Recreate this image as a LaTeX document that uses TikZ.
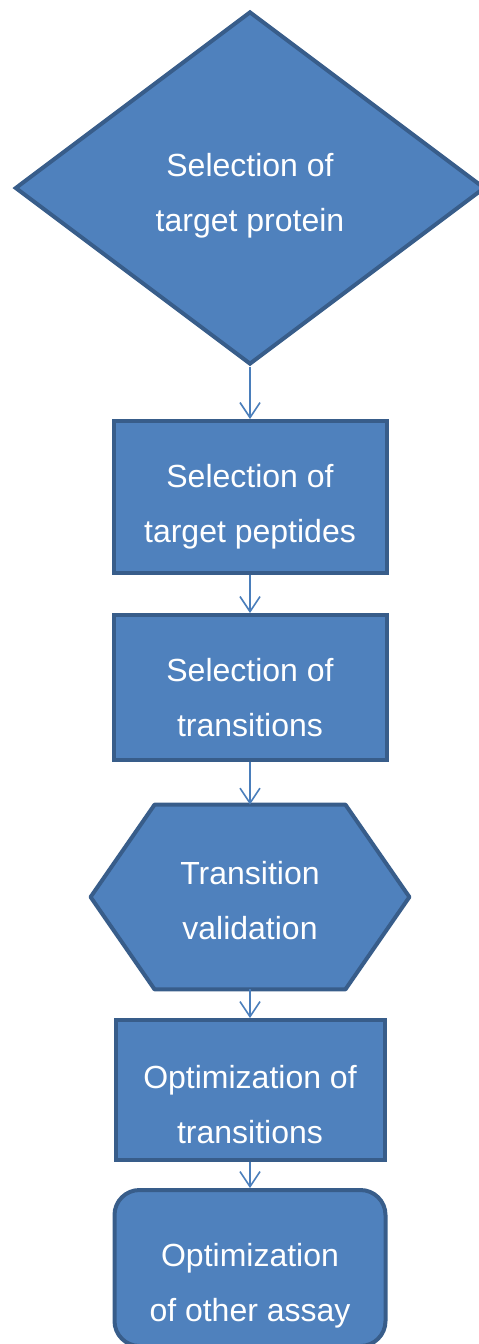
\documentclass[tikz,border=0pt]{standalone}
\usepackage{fontspec}
\setmainfont{Liberation Sans}
\usepackage{tikz}
\usetikzlibrary{arrows.meta,positioning,shapes.geometric,backgrounds}
\definecolor{boxfill}{HTML}{4F81BD}
\definecolor{boxline}{HTML}{385D8A}
\definecolor{flowline}{HTML}{4A7EBB}

\begin{document}
\begin{tikzpicture}[x=0.5pt,y=-0.5pt,>={Straight Barb[length=7.5pt,width=10pt]},
    font=\fontsize{16}{27.5}\selectfont,
    stepbox/.style={draw=boxline,fill=boxfill,line width=2pt,inner sep=0pt},
    steptext/.style={text=white,align=center,inner sep=0pt,yshift=#1},
    flow/.style={->,draw=flowline,line width=0.8pt}]
    \useasboundingbox (0,0) rectangle (478,1344);
    \node[stepbox,diamond,minimum width=235pt,minimum height=176.5pt,
      label={[steptext=-4pt]center:Selection of\\target protein}] (protein) at (250,188) {};
    \node[stepbox,minimum width=136.5pt,minimum height=76pt,
      label={[steptext=-5pt]center:Selection of\\target peptides}] (peptides) at (250,497) {};
    \node[stepbox,minimum width=136.5pt,minimum height=72.5pt,
      label={[steptext=-5pt]center:Selection of\\transitions}] (transitions) at (250,687.5) {};
    \node[minimum width=159pt,minimum height=92pt,inner sep=0pt,
      label={[steptext=-2pt]center:Transition\\validation}] (validation) at (250,897) {};
    \begin{scope}[on background layer]
      \draw[draw=boxline,fill=boxfill,line width=2pt,line join=round]
        ([xshift=32pt]validation.north west) -- ([xshift=-32pt]validation.north east) -- (validation.east)
        -- ([xshift=-32pt]validation.south east) -- ([xshift=32pt]validation.south west) -- (validation.west) -- cycle;
    \end{scope}
    \node[stepbox,minimum width=134.5pt,minimum height=70pt,
      label={[steptext=-7.5pt]center:Optimization of\\transitions}] (optim) at (250,1090) {};
    \node[stepbox,rounded corners=12.5pt,minimum width=135.5pt,minimum height=78pt,
      label={[steptext=-9pt]center:Optimization\\of other assay}] (assay) at (250,1268) {};
    \draw[flow] (protein) -- (peptides);
    \draw[flow] (peptides) -- (transitions);
    \draw[flow] (transitions) -- (validation);
    \draw[flow] (validation) -- (optim);
    \draw[flow] (optim) -- (assay);
\end{tikzpicture}
\end{document}
